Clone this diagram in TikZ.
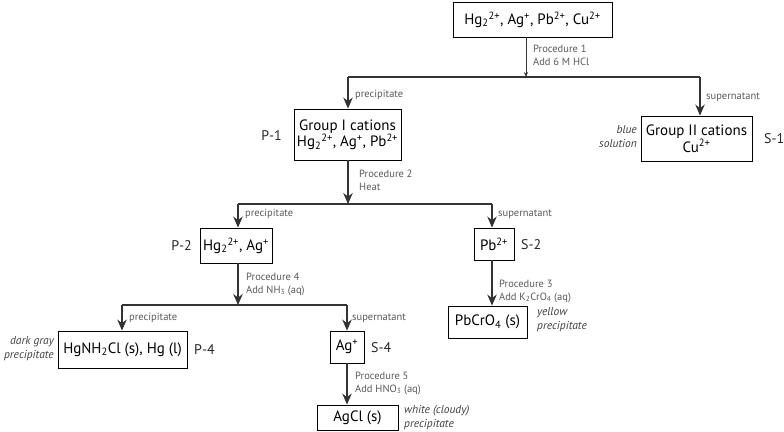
\documentclass[tikz,border=0pt]{standalone}
\usepackage{fontspec}
\setmainfont{PT Sans}
\usetikzlibrary{arrows.meta}
\begin{document}
\begin{tikzpicture}[x=1pt,y=-1pt,
  box/.style={draw=black, line width=0.9pt, inner sep=0pt, align=center, font=\fontsize{15}{16.5}\selectfont},
  lab/.style={font=\fontsize{10.5}{12.5}\selectfont, text=black!65, align=left, inner sep=0pt},
  side/.style={font=\fontsize{14}{16}\selectfont, text=black!85, inner sep=0pt},
  note/.style={font=\itshape\fontsize{11.5}{14}\selectfont, text=black!75, inner sep=0pt},
  conn/.style={line width=1.1pt, draw=black!80},
  arr/.style={conn, -{Stealth[length=11pt,width=9.5pt]}},
  sarr/.style={conn, line width=0.7pt, -{Stealth[length=5pt,width=4pt]}}]
\useasboundingbox (0,0) rectangle (784,431);

% boxes
\node[box, minimum width=159pt, minimum height=35pt] (top) at (532.5,19.5)
  {Hg\textsubscript{2}\textsuperscript{2+}, Ag\textsuperscript{+}, Pb\textsuperscript{2+}, Cu\textsuperscript{2+}};
\node[box, minimum width=107pt, minimum height=51pt] (g1) at (347.5,134.5)
  {Group I cations\\Hg\textsubscript{2}\textsuperscript{2+}, Ag\textsuperscript{+}, Pb\textsuperscript{2+}};
\node[box, minimum width=111pt, minimum height=45pt] (g2) at (696.5,138.5)
  {Group II cations\\Cu\textsuperscript{2+}};
\node[box, minimum width=72pt, minimum height=35pt] (p2) at (236,245.5)
  {Hg\textsubscript{2}\textsuperscript{2+}, Ag\textsuperscript{+}};
\node[box, minimum width=40pt, minimum height=32pt] (pb) at (494,244)
  {Pb\textsuperscript{2+}};
\node[box, minimum width=129pt, minimum height=37pt] (hg) at (122.5,349.5)
  {HgNH\textsubscript{2}Cl (s), Hg (l)};
\node[box, minimum width=34pt, minimum height=32pt] (ag) at (347,347)
  {Ag\textsuperscript{+}};
\node[box, minimum width=79pt, minimum height=32pt] (pbcr) at (487.5,322)
  {PbCrO\textsubscript{4} (s)};
\node[box, minimum width=81pt, minimum height=25pt] (agcl) at (357.5,417.5)
  {AgCl (s)};

% junctions
\coordinate (j1) at (526,77);
\coordinate (b1l) at (348,77);
\coordinate (b1r) at (700,77);
\coordinate (j2) at (348,204);
\coordinate (b2l) at (238,204);
\coordinate (b2r) at (492,204);
\coordinate (j3) at (238,305);
\coordinate (b3l) at (122,305);
\coordinate (b3r) at (347,305);

% connectors
\draw[sarr] (top.south -| j1) -- (j1);
\draw[conn] (b1l) -- (b1r);
\draw[arr] (b1l) -- (b1l |- g1.north);
\draw[arr] (b1r) -- (b1r |- g2.north);
\draw[arr] (g1.south -| j2) -- (j2);
\draw[conn] (b2l) -- (b2r);
\draw[arr] (b2l) -- (b2l |- p2.north);
\draw[arr] (b2r) -- (b2r |- pb.north);
\draw[arr] (p2.south -| j3) -- (j3);
\draw[conn] (b3l) -- (b3r);
\draw[arr] (b3l) -- (b3l |- hg.north);
\draw[arr] (b3r) -- (b3r |- ag.north);
\draw[arr] (pb.south -| b2r) -- (b2r |- pbcr.north);
\draw[arr] (ag.south -| b3r) -- (b3r |- agcl.north);

% procedure labels
\node[lab, anchor=north west] (pr1) at (533,45) {Procedure 1\\Add 6 M HCl};
\node[lab, anchor=north west] (pr2) at (359,170) {Procedure 2\\Heat};
\node[lab, anchor=north west] (pr4) at (246,273) {Procedure 4\\Add NH\textsubscript{3} (aq)};
\node[lab, anchor=north west] (pr3) at (499,280) {Procedure 3\\Add K\textsubscript{2}CrO\textsubscript{4} (aq)};
\node[lab, anchor=north west] (pr5) at (355,372) {Procedure 5\\Add HNO\textsubscript{3} (aq)};

% branch labels
\node[lab, anchor=west] (l1) at (355,95) {precipitate};
\node[lab, anchor=west] (l2) at (706,97) {supernatant};
\node[lab, anchor=west] (l3) at (245,214) {precipitate};
\node[lab, anchor=west] (l4) at (498,214) {supernatant};
\node[lab, anchor=west] (l5) at (129,318) {precipitate};
\node[lab, anchor=west] (l6) at (352,318) {supernatant};

% side labels
\node[side, anchor=east] (sp1) at (282,136) {P-1};
\node[side, anchor=west] (ss1) at (764,139) {S-1};
\node[side, anchor=east] (sp2) at (192,246) {P-2};
\node[side, anchor=west] (ss2) at (521,245) {S-2};
\node[side, anchor=west] (sp4) at (194,350) {P-4};
\node[side, anchor=west] (ss4) at (371,348) {S-4};

% notes
\node[note, anchor=east, align=right] (n1) at (637,137) {blue\\solution};
\node[note, anchor=east, align=right] (n2) at (54,349) {dark gray\\precipitate};
\node[note, anchor=west, align=left] (n3) at (537,320) {yellow\\precipitate};
\node[note, anchor=west, align=left] (n4) at (404,418) {white (cloudy)\\precipitate};
\end{tikzpicture}
\end{document}
